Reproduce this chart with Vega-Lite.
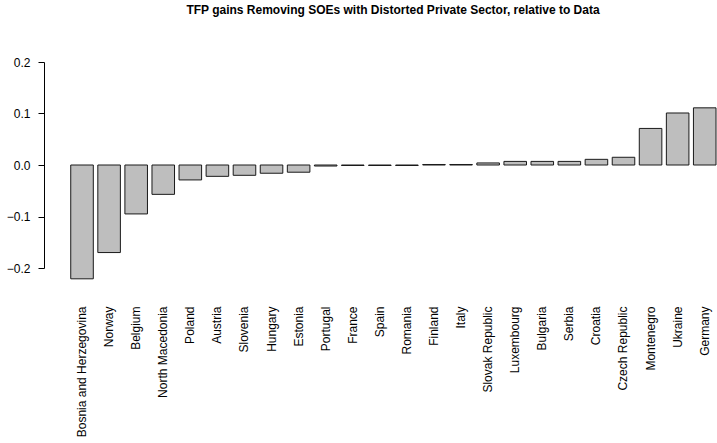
{
  "$schema": "https://vega.github.io/schema/vega-lite/v6.json",
  "width": 672,
  "height": 206,
  "padding": {"left": 6, "top": 4, "right": 0, "bottom": 0},
  "background": "white",
  "title": {
    "text": "TFP gains Removing SOEs with Distorted Private Sector, relative to Data",
    "font": "Liberation Sans",
    "fontSize": 12,
    "fontWeight": "bold",
    "color": "black",
    "anchor": "middle",
    "dx": 13,
    "offset": 39
  },
  "config": {
    "view": {"stroke": null},
    "font": "Liberation Sans"
  },
  "data": {
    "values": [
      {"country": "Bosnia and Herzegovina", "gain": -0.221},
      {"country": "Norway", "gain": -0.170},
      {"country": "Belgium", "gain": -0.095},
      {"country": "North Macedonia", "gain": -0.057},
      {"country": "Poland", "gain": -0.029},
      {"country": "Austria", "gain": -0.022},
      {"country": "Slovenia", "gain": -0.020},
      {"country": "Hungary", "gain": -0.016},
      {"country": "Estonia", "gain": -0.014},
      {"country": "Portugal", "gain": -0.002},
      {"country": "France", "gain": -0.001},
      {"country": "Spain", "gain": -0.001},
      {"country": "Romania", "gain": -0.001},
      {"country": "Finland", "gain": 0.001},
      {"country": "Italy", "gain": 0.001},
      {"country": "Slovak Republic", "gain": 0.004},
      {"country": "Luxembourg", "gain": 0.007},
      {"country": "Bulgaria", "gain": 0.007},
      {"country": "Serbia", "gain": 0.007},
      {"country": "Croatia", "gain": 0.011},
      {"country": "Czech Republic", "gain": 0.015},
      {"country": "Montenegro", "gain": 0.071},
      {"country": "Ukraine", "gain": 0.101},
      {"country": "Germany", "gain": 0.111}
    ]
  },
  "mark": {
    "type": "bar",
    "fill": "#BEBEBE",
    "stroke": "#1a1a1a",
    "strokeWidth": 1,
    "clip": false
  },
  "encoding": {
    "x": {
      "field": "country",
      "type": "nominal",
      "sort": null,
      "scale": {"paddingInner": 0.1667, "paddingOuter": 0.494, "align": 1},
      "axis": {
        "title": null,
        "domain": false,
        "ticks": false,
        "tickSize": 0,
        "labelAngle": -90,
        "labelPadding": 38,
        "labelFontSize": 12,
        "labelFont": "Liberation Sans",
        "labelColor": "black",
        "labelOverlap": false,
        "labelLimit": 0
      }
    },
    "y": {
      "field": "gain",
      "type": "quantitative",
      "scale": {"domain": [-0.2, 0.2], "nice": false, "zero": false},
      "axis": {
        "title": null,
        "grid": false,
        "values": [-0.2, -0.1, 0, 0.1, 0.2],
        "format": ".1f",
        "domainColor": "black",
        "tickColor": "black",
        "tickSize": 6,
        "labelPadding": 8,
        "labelFontSize": 12,
        "labelFont": "Liberation Sans",
        "labelColor": "black"
      }
    },
    "y2": {"datum": 0}
  }
}
